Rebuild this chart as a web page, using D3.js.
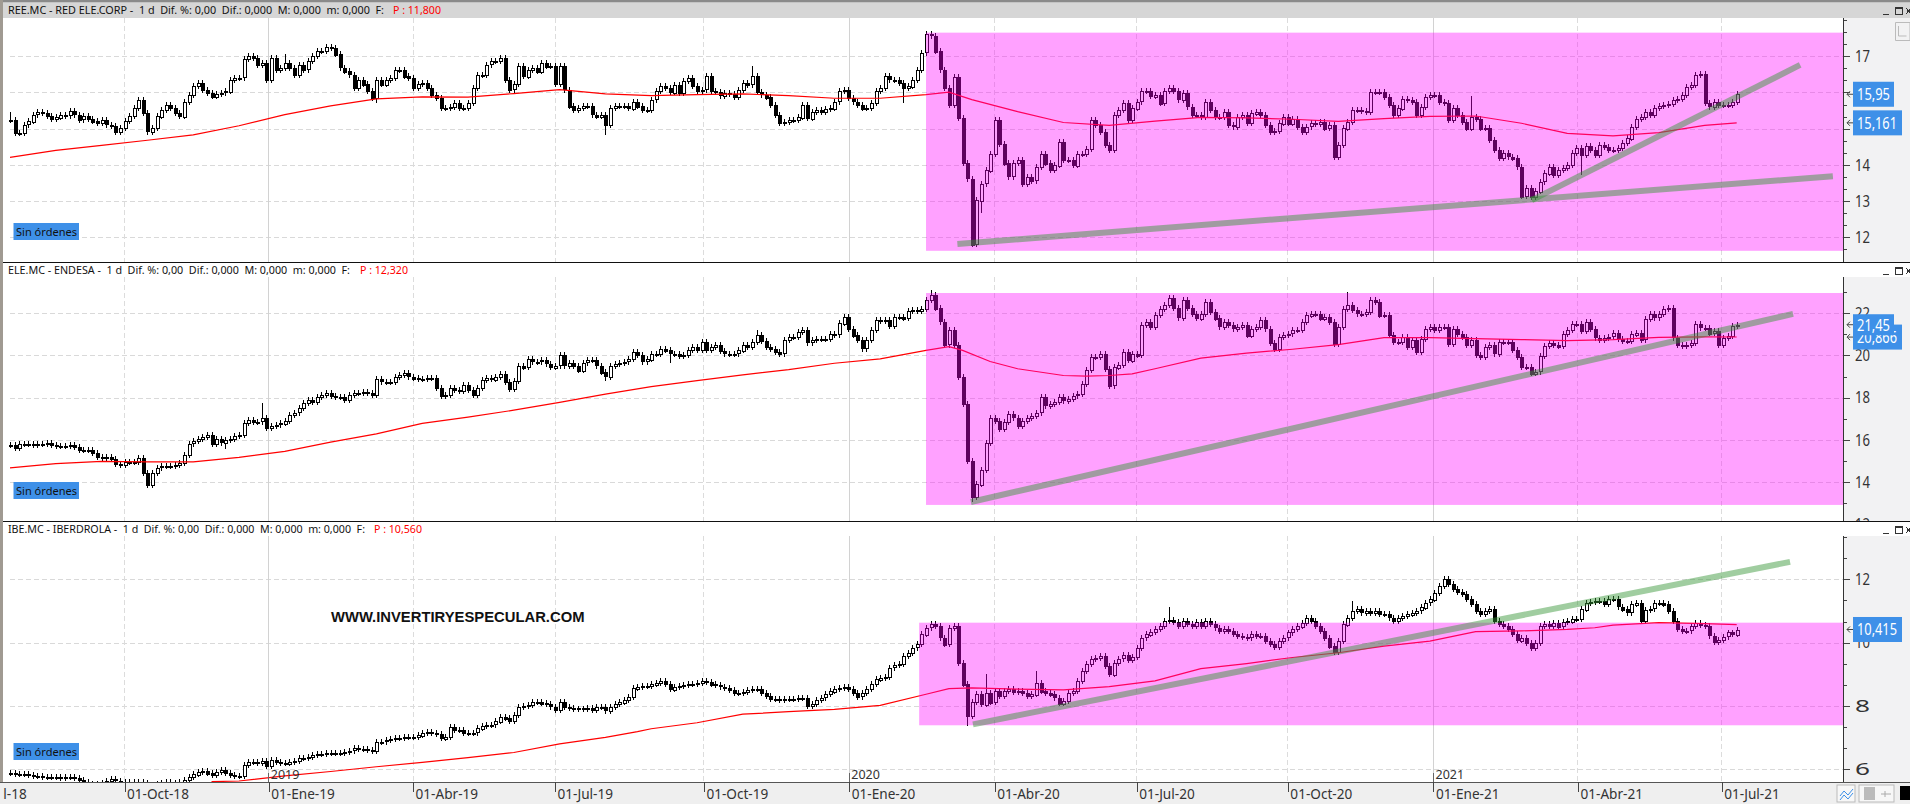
<!DOCTYPE html>
<html><head><meta charset="utf-8">
<style>html,body{margin:0;padding:0;background:#fff;overflow:hidden}svg{display:block}text{font-family:"Noto Sans",sans-serif}</style>
<script src="https://cdn.jsdelivr.net/npm/d3@7/dist/d3.min.js"></script></head><body><svg id="c" width="1910" height="804"></svg>
<script>
// one close read every second session
const reeClose=[15.25,14.88,14.88,15.11,15.2,15.39,15.45,15.43,15.34,15.27,15.32,15.39,15.36,15.48,15.39,15.25,15.34,15.27,15.2,15.15,15.23,15.11,15.08,14.92,15.02,15.2,15.34,15.57,15.78,15.43,14.92,15.02,15.34,15.52,15.66,15.57,15.43,15.34,15.75,15.94,16.19,16.26,16.08,15.99,15.89,15.97,15.99,16.03,16.35,16.4,16.4,16.91,17,16.95,16.77,16.82,16.35,16.95,16.63,16.68,16.82,16.68,16.49,16.77,16.63,16.86,17,17.14,17.14,17.25,17.23,17.05,16.68,16.58,16.49,16.12,16.35,16.22,16.03,15.85,16.35,16.22,16.35,16.4,16.63,16.63,16.45,16.4,16.12,16.22,16.26,16.12,15.94,15.85,15.57,15.57,15.6,15.71,15.57,15.57,15.71,16.12,16.49,16.49,16.77,16.86,16.86,16.95,16.35,16.08,16.22,16.72,16.45,16.63,16.68,16.58,16.82,16.72,16.72,16.22,16.72,16.08,15.62,15.52,15.57,15.62,15.62,15.39,15.34,15.39,15.11,15.57,15.62,15.63,15.62,15.57,15.75,15.62,
15.52,15.52,15.8,16.03,16.17,16.12,16,16.21,15.98,16.31,16.4,16.17,16.03,16.07,16.44,16.03,16,15.91,15.98,15.96,15.87,16.07,16.26,16.21,16.44,16,15.94,15.87,15.66,15.38,15.15,15.19,15.24,15.24,15.31,15.66,15.29,15.47,15.52,15.47,15.54,15.56,15.75,16.03,16.06,15.84,15.75,15.66,15.56,15.56,15.7,16.03,16.12,16.44,16.35,16.35,16.26,16.12,16.17,16.35,16.63,17.09,
17.6,17.57,17.14,16.63,16.12,15.66,16.43,15.29,14.04,13.62,11.81,13.02,13.48,13.85,14.31,15.24,14.59,14.04,13.67,14.04,14.13,13.48,13.67,13.57,13.94,14.31,14.04,13.85,13.99,14.64,14.13,14.13,13.99,14.31,14.31,14.45,15.24,15.1,14.92,14.55,14.41,15.38,15.52,15.7,15.24,15.56,15.75,16.03,16.03,15.89,15.94,15.7,16.03,16.12,16.03,15.8,15.98,15.61,15.38,15.38,15.33,
15.74,15.51,15.33,15.33,15.47,15.1,15.06,15.33,15.38,15.15,15.42,15.47,15.38,15.1,14.92,14.94,15.15,15.33,15.15,15.28,15.06,14.92,15.06,15.15,15.13,15.19,15.01,15.1,14.23,14.55,15.01,15.19,15.51,15.51,15.5,15.47,16.02,16.02,16.02,15.88,15.65,15.38,15.56,15.83,15.79,15.74,15.38,15.61,15.88,15.93,15.93,15.74,15.7,15.24,15.56,15.38,15.19,15.01,15.33,15.28,15.01,15.01,14.69,14.41,14.18,14.32,14.23,14.18,13.95,13.13,13.36,13.11,13.27,13.54,13.77,13.95,
13.72,13.86,13.91,14,14.32,14.46,14.28,14.52,14.41,14.28,14.55,14.5,14.41,14.41,14.46,14.6,14.73,15.06,15.28,15.33,15.47,15.38,15.56,15.62,15.65,15.68,15.79,15.83,15.93,16.14,16.2,16.48,16.5,15.7,15.61,15.74,15.65,15.65,15.65,15.74,15.95];
const eleClose=[15.77,15.62,15.82,15.82,15.82,15.77,15.79,15.79,15.85,15.76,15.73,15.73,15.73,15.76,15.66,15.51,15.54,15.51,15.38,15.19,15.15,15.18,15.1,14.86,14.8,14.94,14.94,14.94,15.15,14.44,13.89,14.44,14.68,14.75,14.75,14.78,14.83,14.91,15.3,15.82,15.93,16.04,16.14,16.24,15.82,16.04,15.88,16.01,16.04,16.17,16.24,16.79,16.95,16.87,16.87,17.03,16.56,16.67,16.72,16.79,16.92,17.19,17.3,17.5,17.74,17.89,17.81,18.05,18.13,18.24,18.08,18.05,18.05,17.89,18.13,18.21,18.24,18.29,18.24,18.13,18.87,18.76,18.76,18.76,18.99,19.07,19.15,18.99,18.91,18.87,18.87,18.91,18.91,18.44,18.08,18.13,18.44,18.36,18.33,18.6,18.36,18.13,18.44,18.83,18.91,18.87,18.99,
19.13,18.73,18.41,18.81,19.52,19.44,19.81,19.71,19.71,19.76,19.6,19.44,19.52,20,19.52,19.65,19.52,19.29,19.65,19.76,19.76,19.52,19.21,19,19.52,19.6,19.65,19.71,19.81,20.16,20,19.71,19.81,20.08,20.08,20.32,20.24,20.08,20.08,19.97,20,20.24,20.4,20.24,20.63,20.24,20.4,20.48,20.19,20.08,20.08,20.08,20.24,20.51,20.4,20.63,20.95,20.67,20.4,20.32,20.16,20.08,20.71,20.87,20.87,21.11,21.19,20.6,20.71,20.76,20.79,20.79,21.03,20.98,21.51,21.83,21.27,20.95,20.71,20.32,20.71,21.19,21.67,21.62,21.67,21.4,21.83,21.83,21.75,22.1,22.14,22.1,22.19,22.62,22.86,
22.22,21.59,20.51,21.19,20.48,18.97,17.7,15,13.3,13.9,14.6,15.87,17.06,16.9,16.51,
16.83,17.22,17.06,16.67,16.9,17.06,17.14,17.3,18.02,17.62,17.7,17.78,18.02,17.86,17.94,18.1,18.17,18.65,19.29,19.92,19.92,20.08,19.37,18.57,19.44,19.56,20.16,19.76,20.08,20,21.43,21.59,21.35,21.9,22.19,22.38,22.7,22.22,21.78,22.62,22.22,21.94,21.75,21.98,22.54,22.06,21.75,21.35,21.59,21.43,21.27,21.35,21.46,20.95,21.27,21.35,21.67,21.27,20.6,20.32,20.87,20.98,21.03,21.19,21.19,21.59,21.9,21.98,21.98,21.75,21.83,21.59,20.56,21.35,22.19,22.38,22.14,21.98,21.98,22.06,22.62,22.54,21.9,21.9,20.95,20.63,20.63,20.87,20.4,20.71,20.16,20.79,21.27,21.35,21.19,21.35,21.35,20.56,21.27,21.03,20.87,20.48,20.71,20,19.92,20.4,20.48,20.08,20.63,20.63,20.63,20.24,19.92,
19.47,19.47,19.15,19.23,19.95,20.43,20.59,20.51,20.43,20.99,21.2,21.47,21.47,21.15,21.58,21.23,20.83,20.75,20.83,20.88,21.04,20.78,20.67,20.67,20.99,21.07,20.75,21.71,21.95,21.79,21.95,22.19,22.22,20.83,20.51,20.46,20.51,20.59,21.47,21.31,21.31,21.04,21.15,20.51,20.83,20.91,21.39,21.45];
const ibeClose=[5.89,5.85,5.84,5.85,5.82,5.79,5.79,5.77,5.77,5.75,5.75,5.73,5.75,5.75,5.73,5.66,5.6,5.54,5.51,5.54,5.58,5.62,5.68,5.64,5.61,5.61,5.6,5.58,5.61,5.56,5.51,5.51,5.54,5.58,5.61,5.58,5.56,5.6,5.66,5.77,5.85,5.93,5.96,5.87,5.82,5.93,5.98,5.87,5.82,5.79,5.79,6.14,6.23,6.24,6.21,6.27,6.11,6.29,6.24,6.21,6.19,6.24,6.27,6.35,6.36,6.38,6.44,6.47,6.48,6.51,6.51,6.52,6.53,6.55,6.59,6.66,6.64,6.63,6.61,6.59,6.87,6.87,6.91,6.95,6.98,6.99,7.01,7.03,7.03,7.08,7.16,7.18,7.16,7.12,6.98,7.03,7.33,7.24,7.24,7.14,7.14,7.16,7.29,7.37,7.4,7.4,7.51,7.66,7.61,7.53,7.72,7.96,8,8.03,8.11,8.14,8.08,8.05,7.98,7.87,8.11,7.96,7.93,7.92,7.92,7.92,7.93,7.87,7.98,7.96,7.85,7.98,8.06,8.11,8.19,8.29,8.56,8.61,
8.63,8.63,8.68,8.74,8.79,8.68,8.53,8.61,8.63,8.65,8.68,8.68,8.72,8.79,8.76,8.68,8.65,8.61,8.58,8.51,8.42,8.4,8.44,8.51,8.55,8.53,8.4,8.32,8.23,8.21,8.19,8.21,8.23,8.23,8.25,8.26,8,8.05,8.19,8.26,8.37,8.47,8.55,8.58,8.61,8.55,8.42,8.29,8.4,8.53,8.68,8.84,8.89,8.93,9.21,9.28,9.32,9.58,9.68,9.84,9.95,10.26,10.47,10.58,10.51,10.16,9.95,10.47,10.53,
9.37,8.68,7.68,8.11,8.37,8.05,8.42,8.11,8.47,8.32,8.47,8.53,8.44,8.47,8.4,8.32,8.37,8.74,8.47,8.42,8.37,8.26,8.08,8.16,8.42,8.47,8.79,9.11,9.32,9.49,9.53,9.58,9.26,9,9.37,9.49,9.6,9.45,9.56,9.84,10.16,10.26,10.34,10.42,10.51,10.68,10.72,10.65,10.53,10.68,10.58,10.53,10.65,10.51,10.68,10.58,10.47,10.37,10.44,10.37,10.26,10.21,10.19,10.16,10.26,10.21,10.21,10.05,9.95,9.87,10.05,10.16,10.32,10.42,10.51,10.63,10.79,10.68,10.53,10.37,10.16,9.89,9.71,10.05,10.58,10.79,11,11.05,10.95,11,10.95,11,10.89,10.89,10.79,10.68,10.79,10.84,10.89,10.95,11,11.11,11.26,11.37,11.58,11.79,12,11.84,11.68,11.6,11.53,11.37,11.21,11,10.89,11,11.05,10.68,10.58,10.53,10.42,10.26,10.08,10.16,10,9.84,10,10.53,10.58,10.53,10.63,10.51,10.65,10.68,10.76,10.74,11.05,11.26,11.28,11.32,
11.32,11.21,11.37,11.37,11.14,11.05,10.95,11.21,11.26,10.68,11.03,11.07,11.24,11.26,11.21,11,10.68,10.44,10.37,10.37,10.51,10.61,10.55,10.51,10.21,10.02,10.08,10.19,10.32,10.26,10.41];
// long wicks: [sample index, price]
const reeSpikes=[[130,14.82],[162,16.72],[195,15.7],[210,11.79],[212,12.67],[319,15.9],[343,13.73],[69,17.33],[0,15.45],[60,17.05],[80,15.7]];
const eleSpikes=[[55,17.74],[47,15.57],[130,18.78],[144,19.65],[210,13.05],[292,23],[163,21.2],[201,23.1]];
const ibeSpikes=[[253,11.11],[209,7.37],[224,9.1],[213,9.0],[293,11.3]];
// moving average: sample indexes and values
const reeMaIdx=[0,10,20,30,40,50,60,70,80,90,100,110,120,130,140,150,160,170,180,190,200,205,210,220,230,240,250,260,270,280,290,300,310,320,330,340,350,360,370,377];
const reeMa=[14.21,14.4,14.54,14.68,14.83,15.08,15.39,15.63,15.82,15.88,15.87,15.97,16.08,15.96,15.91,15.94,15.96,15.91,15.84,15.84,15.94,16.01,15.8,15.47,15.17,15.09,15.21,15.31,15.3,15.26,15.2,15.28,15.34,15.35,15.15,14.87,14.8,14.89,15.09,15.16];
const eleMaIdx=[0,10,20,30,40,50,60,70,80,90,100,110,120,130,140,150,160,170,180,190,200,205,208,214,220,230,235,240,245,250,260,270,280,290,300,310,320,330,340,350,360,370,377];
const eleMa=[14.68,14.88,14.99,14.97,14.97,15.18,15.46,15.9,16.29,16.79,17.08,17.41,17.78,18.17,18.52,18.81,19.08,19.33,19.63,19.84,20.24,20.41,20.24,19.71,19.37,19.05,19.02,19.05,19.13,19.37,19.87,20.11,20.29,20.51,20.84,20.84,20.79,20.75,20.7,20.75,20.85,20.88,20.87];
const ibeMaIdx=[44,50,60,70,80,90,100,110,120,130,137,140,150,160,170,180,190,200,205,210,220,230,240,250,260,270,280,290,300,310,320,330,340,346,350,360,370,377];
const ibeMa=[5.61,5.63,5.79,5.93,6.08,6.22,6.37,6.53,6.8,7.01,7.19,7.28,7.47,7.74,7.82,7.89,8.02,8.37,8.55,8.57,8.53,8.51,8.61,8.79,9.18,9.34,9.53,9.68,9.89,10.05,10.35,10.37,10.42,10.47,10.55,10.63,10.6,10.57];
// trend lines [session, price] and highlighted price zones
const reeTrends=[[[413.7,11.82],[796,13.69]],[[664.5,13.03],[781.7,16.76]]];
const eleTrends=[[[419.6,13.07],[778.6,21.96]]];
const ibeTrends=[[[420.5,7.42],[777.3,12.55]]];
const reeZone=[400,17.65,11.63], eleZone=[400,22.95,12.93], ibeZone=[397,10.63,7.39];
// calendar ticks
const tickSessions=[-18,50,113,176,238,303,366.5,430,492,558,621.6,684.7,747.5];
const tickLabels=["01-Jul-18","01-Oct-18","01-Ene-19","01-Abr-19","01-Jul-19","01-Oct-19","01-Ene-20","01-Abr-20","01-Jul-20","01-Oct-20","01-Ene-21","01-Abr-21","01-Jul-21"];
const yearSessions=[113,366.5,621.6], yearLabels=["2019","2020","2021"];
const reeTicks=[12,13,14,15,16,17], eleTicks=[12,14,16,18,20,22], ibeTicks=[6,8,10,12];
const reeTitle="REE.MC - RED ELE.CORP -  1 d  Dif. %: 0,00  Dif.: 0,000  M: 0,000  m: 0,000  F:", reeP="P : 11,800";
const eleTitle="ELE.MC - ENDESA -  1 d  Dif. %: 0,00  Dif.: 0,000  M: 0,000  m: 0,000  F:", eleP="P : 12,320";
const ibeTitle="IBE.MC - IBERDROLA -  1 d  Dif. %: 0,00  Dif.: 0,000  M: 0,000  m: 0,000  F:", ibeP="P : 10,560";
const reeTags=[[15.95,"15,95"],[15.161,"15,161"]], eleTags=[[20.866,"20,866"],[21.45,"21,45"]], ibeTags=[[10.415,"10,415"]];

const svg=d3.select("#c");
const X=d3.scaleLinear().domain([0,754]).range([10,1736.7]);
const axisX=1843, BLUE="#3e90e8";
const panels=[
 {id:"ree",close:reeClose,spikes:reeSpikes,maI:reeMaIdx,ma:reeMa,trends:reeTrends,zone:reeZone,ticks:reeTicks,title:reeTitle,tw:376,p:reeP,pX:393,tags:reeTags,top:18,head:3,bottom:262,dom:[12,17],rng:[237.4,56.2],minor:3,active:true,sin:223},
 {id:"ele",close:eleClose,spikes:eleSpikes,maI:eleMaIdx,ma:eleMa,trends:eleTrends,zone:eleZone,ticks:eleTicks,title:eleTitle,tw:342,p:eleP,pX:360,tags:eleTags,top:277,head:263,bottom:521,dom:[14,22],rng:[482.3,313.1],minor:2,sin:482},
 {id:"ibe",close:ibeClose,spikes:ibeSpikes,maI:ibeMaIdx,ma:ibeMa,trends:ibeTrends,zone:ibeZone,ticks:ibeTicks,title:ibeTitle,tw:357,p:ibeP,pX:374,tags:ibeTags,top:536,head:522,bottom:782,dom:[6,12],rng:[769.3,579.3],minor:3,sin:743}
];
svg.append("rect").attr("width",1910).attr("height",804).attr("fill","#fff");
const defs=svg.append("defs");
panels.forEach(P=>{
 const Y=d3.scaleLinear().domain(P.dom).range(P.rng);
 const g=svg.append("g");
 defs.append("clipPath").attr("id","cp"+P.id).append("rect").attr("x",3).attr("y",P.head).attr("width",axisX-3).attr("height",P.bottom-P.head);
 defs.append("clipPath").attr("id","ca"+P.id).append("rect").attr("x",axisX).attr("y",P.top).attr("width",67).attr("height",P.bottom-P.top);
 if(P.active) g.append("rect").attr("x",3).attr("y",3).attr("width",1907).attr("height",15).attr("fill","#d6d6d6");
 const plot=g.append("g").attr("clip-path",`url(#cp${P.id})`);
 // grid
 plot.selectAll(".h").data(P.ticks).join("line").attr("x1",10).attr("x2",axisX).attr("y1",d=>Math.round(Y(d))+.5).attr("y2",d=>Math.round(Y(d))+.5).attr("stroke","#d9d9d9").attr("stroke-dasharray","5 3").attr("shape-rendering","crispEdges");
 plot.selectAll(".v").data(tickSessions.slice(1)).join("line").attr("x1",d=>X(d)).attr("x2",d=>X(d)).attr("y1",P.top).attr("y2",P.bottom)
   .attr("stroke",d=>yearSessions.includes(d)?"#d2d2d2":"#dcdcdc").attr("stroke-dasharray",d=>yearSessions.includes(d)?null:"5 3").attr("shape-rendering","crispEdges");
 // candles: each spans previous close to close
 const spike=new Map(P.spikes.map(d=>[d[0],d[1]]));
 const bars=P.close.map((c,i)=>({i,o:i?P.close[i-1]:c,c}));
 const cg=plot.append("g").attr("shape-rendering","crispEdges");
 cg.selectAll("line").data(bars).join("line")
  .attr("x1",d=>Math.round(X(d.i*2))+.5).attr("x2",d=>Math.round(X(d.i*2))+.5)
  .attr("y1",d=>{const s=spike.get(d.i);return Math.min(Y(Math.max(d.o,d.c))-3,s!==undefined?Y(s):1e4)})
  .attr("y2",d=>{const s=spike.get(d.i);return Math.max(Y(Math.min(d.o,d.c))+3,s!==undefined?Y(s):-1e4)})
  .attr("stroke","#000");
 cg.selectAll("rect").data(bars).join("rect")
  .attr("x",d=>Math.round(X(d.i*2))-1+.5).attr("width",3)
  .attr("y",d=>Math.round(Y(Math.max(d.o,d.c)))+.5).attr("height",d=>Math.max(1,Math.round(Math.abs(Y(d.o)-Y(d.c)))))
  .attr("fill",d=>d.c>=d.o?"#fff":"#000").attr("stroke","#000");
 // moving average
 plot.append("path").attr("d",d3.line().x((d,i)=>X(P.maI[i]*2)).y(d=>Y(d))(P.ma)).attr("fill","none").attr("stroke","#f00").attr("stroke-width",1.2);
 // highlighted zone
 plot.append("rect").attr("x",X(P.zone[0])).attr("width",axisX-X(P.zone[0])).attr("y",Y(P.zone[1])).attr("height",Y(P.zone[2])-Y(P.zone[1])).attr("fill","rgba(255,0,255,.37)");
 // trend lines
 plot.selectAll(".t").data(P.trends).join("line").attr("x1",d=>X(d[0][0])).attr("y1",d=>Y(d[0][1])).attr("x2",d=>X(d[1][0])).attr("y2",d=>Y(d[1][1]))
   .attr("stroke","rgba(53,149,53,.47)").attr("stroke-width",6);
 // sin ordenes
 g.append("rect").attr("x",13.5).attr("y",P.sin).attr("width",65.5).attr("height",17).attr("fill",BLUE);
 g.append("text").attr("x",16).attr("y",P.sin+12.5).attr("font-size",11.5).attr("textLength",61).attr("lengthAdjust","spacingAndGlyphs").attr("fill","#111").text("Sin órdenes");
 // title
 g.append("text").attr("x",8).attr("y",P.head+11).attr("font-size",11.6).attr("textLength",P.tw).attr("lengthAdjust","spacingAndGlyphs").attr("fill","#111").style("white-space","pre").text(P.title);
 g.append("text").attr("x",P.pX).attr("y",P.head+11).attr("font-size",11.6).attr("textLength",48).attr("lengthAdjust","spacingAndGlyphs").attr("fill","#f00").text(P.p);
 // right axis
 g.append("rect").attr("x",axisX).attr("y",P.top).attr("width",67).attr("height",P.bottom-P.top).attr("fill","#f2f2f3");
 const ax=g.append("g").attr("clip-path",`url(#ca${P.id})`);
 const step=(P.ticks[1]-P.ticks[0])/P.minor;
 const minors=d3.range(P.dom[0]-2,P.dom[1]+3,step).filter(v=>!P.ticks.includes(Math.round(v*1000)/1000));
 const am=ax.append("g").attr("transform",`translate(${axisX},0)`).call(d3.axisRight(Y).tickValues(minors).tickSize(4).tickFormat(""));
 am.select(".domain").remove(); am.selectAll("line").attr("stroke","#444").attr("shape-rendering","crispEdges");
 const aM=ax.append("g").attr("transform",`translate(${axisX},0)`).call(d3.axisRight(Y).tickValues(P.ticks).tickSize(7).tickPadding(5).tickFormat(d3.format("d")));
 aM.select(".domain").remove(); aM.selectAll("line").attr("stroke","#444").attr("shape-rendering","crispEdges");
 aM.selectAll("text").attr("font-size",16).attr("textLength",15).attr("lengthAdjust","spacingAndGlyphs").attr("fill","#333").style("font-family",'"Noto Sans",sans-serif');
 g.append("line").attr("x1",axisX+.5).attr("x2",axisX+.5).attr("y1",P.top).attr("y2",P.bottom).attr("stroke","#333");
 // price tags
 P.tags.forEach(t=>{
  const y=Y(t[0]), w=t[1].length>5?49:41, h=t[1]=="21,45"?21:25;
  ax.append("path").attr("d",`M${axisX+12} ${y}h-8m3 -3l-3 3l3 3`).attr("fill","none").attr("stroke","#444");
  g.append("rect").attr("x",1853).attr("y",y-h/2).attr("width",w).attr("height",h).attr("fill",BLUE);
  g.append("text").attr("x",1857).attr("y",y+6).attr("font-size",15.5).attr("textLength",t[1].length>5?40:33).attr("lengthAdjust","spacingAndGlyphs").attr("fill","#fff").text(t[1]);
 });
 // window buttons
 const by=P.head+8;
 g.append("path").attr("d",`M1883 ${by+3}h6M1895.5 ${by-3.5}h7v7h-7zM1895.5 ${by-2.5}h7M1906 ${by-3}l5 6M1911 ${by-3}l-5 6`).attr("fill","none").attr("stroke","#333").attr("shape-rendering","crispEdges");
 // panel separator
 if(P.id!="ibe") g.append("line").attr("x1",0).attr("x2",1910).attr("y1",P.bottom+.5).attr("y2",P.bottom+.5).attr("stroke","#111");
});
// top icon of first panel axis
svg.append("path").attr("d","M1895.5 22.5h14.5v18h-14.5zM1898.5 26v10h8").attr("fill","none").attr("stroke","#bbb");
// bottom axis band
svg.append("rect").attr("x",0).attr("y",782).attr("width",1910).attr("height",22).attr("fill","#efefef");
svg.append("line").attr("x1",0).attr("x2",1910).attr("y1",782.5).attr("y2",782.5).attr("stroke","#555");
defs.append("clipPath").attr("id","cb").append("rect").attr("x",3).attr("y",782).attr("width",1830).attr("height",22);
const xa=svg.append("g").attr("clip-path","url(#cb)");
const xg=xa.append("g").attr("transform","translate(0,782)").call(d3.axisBottom(X).tickValues(tickSessions).tickSize(10).tickPadding(0).tickFormat((d,i)=>tickLabels[i]));
xg.select(".domain").remove();
xg.selectAll("line").attr("stroke","#444").attr("shape-rendering","crispEdges");
xg.selectAll("text").attr("text-anchor","start").attr("dx",2).attr("y",5).attr("dy","12px").attr("font-size",13.6).attr("fill","#333").style("font-family",'"Noto Sans",sans-serif');
// year marks
const yg=svg.append("g");
yg.selectAll("line").data(yearSessions).join("line").attr("x1",d=>X(d)).attr("x2",d=>X(d)).attr("y1",773).attr("y2",782).attr("stroke","#666").attr("shape-rendering","crispEdges");
yg.selectAll("text").data(yearLabels).join("text").attr("x",(d,i)=>X(yearSessions[i])+2).attr("y",779).attr("font-size",12.5).attr("fill","#333").text(d=>d);
// watermark
svg.append("text").attr("x",331).attr("y",622).attr("font-size",14.8).attr("font-weight","bold").attr("fill","#111").style("font-family",'"Liberation Sans",sans-serif').text("WWW.INVERTIRYESPECULAR.COM");
// window frame
svg.append("rect").attr("x",0).attr("y",0).attr("width",1910).attr("height",2.5).attr("fill","#8a8a8a");
svg.append("rect").attr("x",0).attr("y",0).attr("width",3).attr("height",782).attr("fill","#a09a92");
// bottom-right buttons
const br=svg.append("g").attr("fill","none");
br.append("rect").attr("x",1837).attr("y",785).attr("width",18).attr("height",17).attr("stroke","#bbb").attr("fill","#f7f7f7");
br.append("path").attr("d","M1840 796l4 -5l4 4l5 -6M1840 800l4 -5l4 4l5 -6").attr("stroke","#3e90e8");
br.append("rect").attr("x",1859).attr("y",785).attr("width",35).attr("height",17).attr("stroke","#bbb").attr("fill","#f7f7f7");
br.append("rect").attr("x",1864).attr("y",787).attr("width",11).attr("height",13).attr("fill","#bbb");
br.append("path").attr("d","M1881 794h10M1885 791v6").attr("stroke","#aaa");
br.append("rect").attr("x",1900).attr("y",786).attr("width",10).attr("height",14).attr("fill","#000");
</script></body></html>
